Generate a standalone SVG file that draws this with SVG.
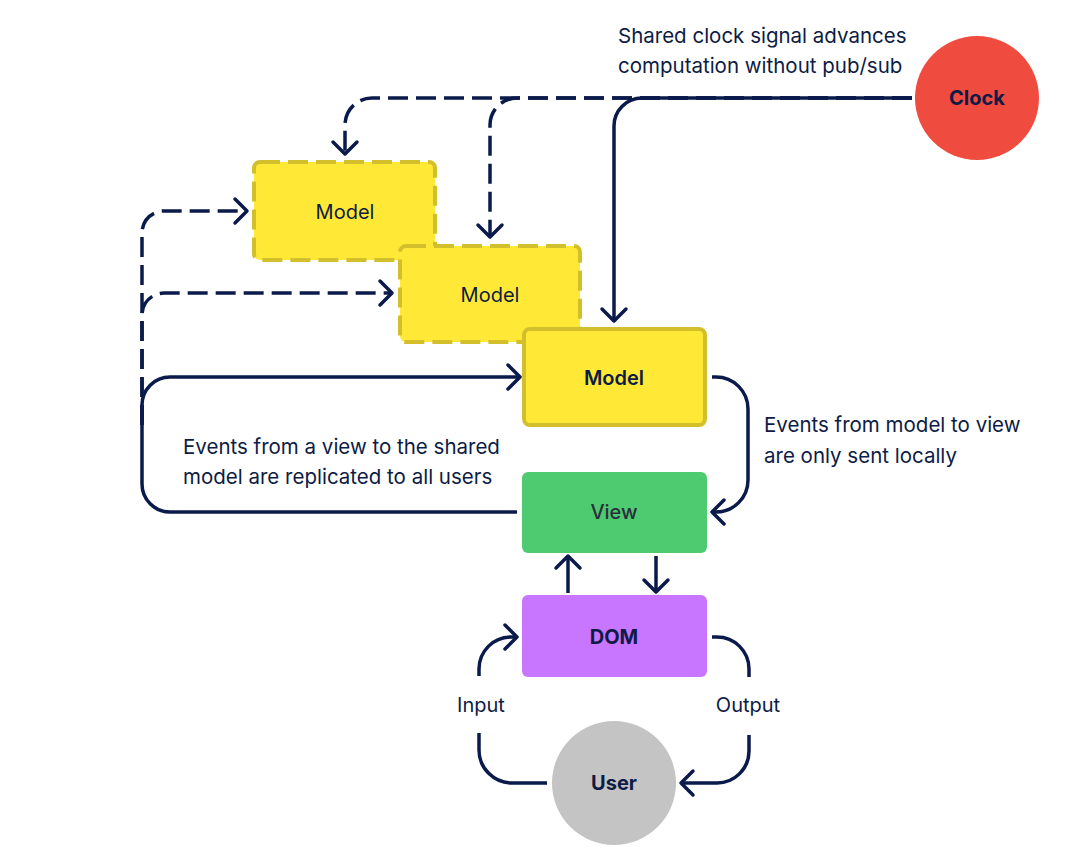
<svg xmlns="http://www.w3.org/2000/svg" width="1083" height="863" viewBox="0 0 1083 863">
<defs>
<marker id="arr" markerUnits="userSpaceOnUse" markerWidth="30" markerHeight="30" viewBox="-15 -15 30 30" refX="0" refY="0" orient="auto">
<path d="M -12 -12 L 0 0 L -12 12" fill="none" stroke="#0a1a4a" stroke-width="3.5" stroke-linecap="round" stroke-linejoin="round" stroke-dasharray="none"/>
</marker>
</defs>
<style>
text{font-family:Inter,"Noto Sans","Liberation Sans",sans-serif;fill:#0d1b45}
.lbl{font-size:20px;text-anchor:middle}
.note{font-size:20.5px}
.con{fill:none;stroke:#0a1a4a;stroke-width:3.5;stroke-linecap:butt}
.dash{stroke-dasharray:20 8}
.ymodel{fill:#ffe936;stroke:#d3bf2b;stroke-width:4}
.ydash{stroke-dasharray:20 8}
</style>
<rect width="1083" height="863" fill="#ffffff"/>

<g id="connectors">
<path class="con dash" d="M 912 98 H 372 A 27 27 0 0 0 345 125 V 154" marker-end="url(#arr)"/>
<path class="con dash" d="M 912 98 H 517 A 27 27 0 0 0 490 125 V 237" marker-end="url(#arr)"/>
<path class="con dash" d="M 142 425 V 233 A 22 22 0 0 1 164 211 H 247" marker-end="url(#arr)"/>
<path class="con dash" d="M 142 425 V 315 A 22 22 0 0 1 164 293 H 392" marker-end="url(#arr)"/>
<path class="con" d="M 912 98 H 642 A 28 28 0 0 0 614 126 V 321" marker-end="url(#arr)"/>
<path class="con" d="M 517 512 H 170 A 28 28 0 0 1 142 484 V 405 A 28 28 0 0 1 170 377 H 520" marker-end="url(#arr)"/>
<path class="con" d="M 712 377 H 716 A 32 32 0 0 1 748 409 V 480 A 32 32 0 0 1 716 512 H 712" marker-end="url(#arr)"/>
<path class="con" d="M 568 593 V 556" marker-end="url(#arr)"/>
<path class="con" d="M 656 556 V 592" marker-end="url(#arr)"/>
<path class="con" d="M 547 783 H 512 A 33 33 0 0 1 479 750 V 733"/>
<path class="con" d="M 479 676 V 669 A 32 32 0 0 1 511 637 H 517" marker-end="url(#arr)"/>
<path class="con" d="M 712 637 H 717 A 32 32 0 0 1 749 669 V 677"/>
<path class="con" d="M 749 735 V 751 A 32 32 0 0 1 717 783 H 681" marker-end="url(#arr)"/>
</g>

<g id="model1">
<rect class="ymodel ydash" x="254" y="162" width="181" height="98" rx="6"/>
<text class="lbl" x="345" y="219">Model</text>
</g>
<g id="model2">
<rect class="ymodel ydash" x="400" y="246" width="180" height="96" rx="6"/>
<text class="lbl" x="490" y="302">Model</text>
</g>
<g id="model3">
<rect class="ymodel" x="524" y="329" width="181" height="96" rx="6"/>
<text class="lbl" x="614" y="385" font-weight="600">Model</text>
</g>
<g id="view">
<rect x="522" y="472" width="185" height="81" rx="6" fill="#4ecb71"/>
<text class="lbl" x="614" y="519" font-weight="500" style="fill:#2b2f3a">View</text>
</g>
<g id="dom">
<rect x="522" y="595" width="185" height="82" rx="6" fill="#c875ff"/>
<text class="lbl" x="614" y="644" font-weight="700">DOM</text>
</g>
<g id="user">
<circle cx="614" cy="783" r="62" fill="#c4c4c4"/>
<text class="lbl" x="614" y="790" font-weight="700">User</text>
</g>
<g id="clock">
<circle cx="977" cy="98" r="62" fill="#f04b3f"/>
<text class="lbl" x="977" y="105" font-weight="700">Clock</text>
</g>

<g id="labels">
<text class="note" x="618" y="43">Shared clock signal advances</text>
<text class="note" x="618" y="73">computation without pub/sub</text>
<text class="note" x="183" y="454">Events from a view to the shared</text>
<text class="note" x="183" y="484">model are replicated to all users</text>
<text class="note" x="764" y="432">Events from model to view</text>
<text class="note" x="764" y="463">are only sent locally</text>
<text class="lbl" x="481" y="712">Input</text>
<text class="lbl" x="748" y="712">Output</text>
</g>
</svg>
